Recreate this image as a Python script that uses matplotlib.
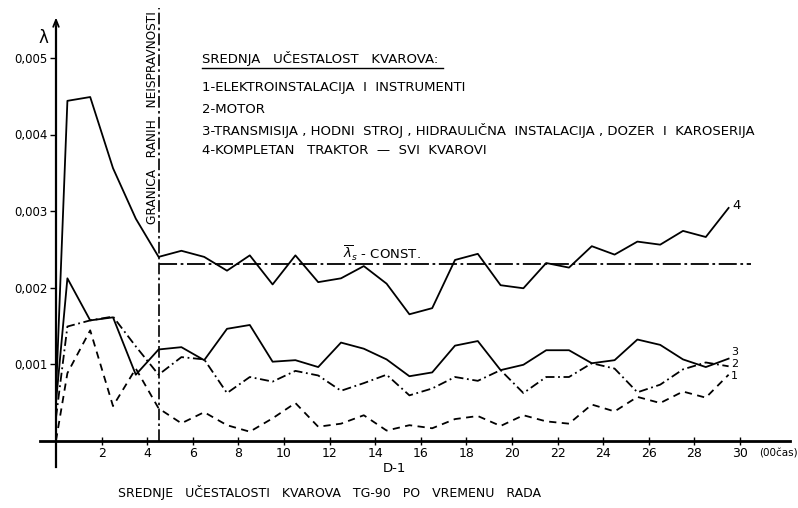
import matplotlib
matplotlib.use("Agg")
import matplotlib.pyplot as plt
from matplotlib.lines import Line2D

# ---------------- data ----------------
hours = [0, 0.5, 1.5, 2.5, 3.5, 4.5, 5.5, 6.5, 7.5, 8.5, 9.5, 10.5, 11.5, 12.5, 13.5,
         14.5, 15.5, 16.5, 17.5, 18.5, 19.5, 20.5, 21.5, 22.5, 23.5, 24.5, 25.5, 26.5,
         27.5, 28.5, 29.5]
s1_elektro = [0.0, 0.00088, 0.00144, 0.00045, 0.00094, 0.00042, 0.000225, 0.00037, 0.0002,
              0.000115, 0.00029, 0.00049, 0.00018, 0.00022, 0.00033, 0.00013, 0.0002, 0.00016,
              0.00028, 0.00032, 0.00019, 0.00033, 0.00025, 0.00022, 0.00047, 0.00038, 0.00057,
              0.00049, 0.00064, 0.00056, 0.00086]
s2_motor = [0.0003, 0.00149, 0.00157, 0.00162, 0.00123, 0.00086, 0.00109, 0.00106, 0.00062,
            0.00083, 0.00077, 0.00091, 0.00085, 0.00065, 0.00075, 0.00086, 0.00059, 0.00068,
            0.00083, 0.00078, 0.00092, 0.00062, 0.00083, 0.00083, 0.00101, 0.00094, 0.00063,
            0.00073, 0.00093, 0.00102, 0.00097]
s3_transmisija = [0.0005, 0.00212, 0.00157, 0.00161, 0.00086, 0.00119, 0.00122, 0.00105,
                  0.00146, 0.00151, 0.00103, 0.00105, 0.00096, 0.00128, 0.0012, 0.00106,
                  0.00084, 0.00089, 0.00124, 0.0013, 0.00092, 0.00099, 0.00118, 0.00118,
                  0.00101, 0.00105, 0.00132, 0.00125, 0.00106, 0.00096, 0.00107]
s4_kompletan = [0.0006, 0.00444, 0.00449, 0.00356, 0.0029, 0.0024, 0.00248, 0.0024, 0.00222,
                0.00242, 0.00204, 0.00242, 0.00207, 0.00212, 0.00228, 0.00205, 0.00165,
                0.00173, 0.00236, 0.00244, 0.00203, 0.00199, 0.00232, 0.00226, 0.00254,
                0.00243, 0.0026, 0.00256, 0.00274, 0.00266, 0.00304]
lambda_s = 0.00231
granica = 4.5
const_end = 30.5
x_ticks = [2, 4, 6, 8, 10, 12, 14, 16, 18, 20, 22, 24, 26, 28, 30]
y_ticks = [0.001, 0.002, 0.003, 0.004, 0.005]
y_tick_labels = ["0,001", "0,002", "0,003", "0,004", "0,005"]
legend_lines = [
    "1-ELEKTROINSTALACIJA  I  INSTRUMENTI",
    "2-MOTOR",
    "3-TRANSMISIJA , HODNI  STROJ , HIDRAULIČNA  INSTALACIJA , DOZER  I  KAROSERIJA",
    "4-KOMPLETAN   TRAKTOR  —  SVI  KVAROVI",
]

FONT = ["Liberation Sans Narrow", "DejaVu Sans"]
plt.rcParams["font.family"] = FONT

W, H = 798, 508
fig = plt.figure(figsize=(W / 100, H / 100), dpi=100)
fig.patch.set_facecolor("white")
ax = fig.add_axes([0, 0, 1, 1])

# pixel mapping: x_px = 56 + 22.8*x ; y_px = 440.5 - 76500*y
XS, X0 = 22.8, 56
YS, Y0 = 76500, 440.5
ax.set_xlim(-X0 / XS, (W - X0) / XS)
ax.set_ylim(-(H - Y0) / YS, Y0 / YS)
ax.set_facecolor("white")

def fx(px):
    return px / W

def fy(py):
    return 1 - py / H

# axes spines through the origin
for s in ["top", "right"]:
    ax.spines[s].set_visible(False)
ax.spines["left"].set_position(("data", 0))
ax.spines["bottom"].set_position(("data", 0))
ax.spines["left"].set_bounds(-26 / YS, 0.0054)
ax.spines["bottom"].set_bounds(-16 / XS, 32.2)
ax.spines["left"].set_linewidth(1.6)
ax.spines["bottom"].set_linewidth(2.0)
ax.set_xticks(x_ticks)
ax.set_xticklabels([str(t) for t in x_ticks])
ax.set_yticks(y_ticks)
ax.set_yticklabels(y_tick_labels)
ax.tick_params(axis="x", direction="inout", length=6, width=1.0, pad=2, labelsize=9)
ax.tick_params(axis="y", direction="out", length=4, width=1.0, pad=2, labelsize=8.5)

# arrow heads
ax.annotate("", xy=(32.7, 0), xytext=(31.2, 0),
            arrowprops=dict(arrowstyle="->,head_length=0.9,head_width=0.22", lw=1.4,
                            color="black", shrinkA=0, shrinkB=0))
ax.annotate("", xy=(0, 0.00553), xytext=(0, 0.0052),
            arrowprops=dict(arrowstyle="->,head_length=0.5,head_width=0.2", lw=1.3,
                            color="black", shrinkA=0, shrinkB=0))

lw = 1.3
ax.plot(hours, s4_kompletan, color="black", lw=lw, ls="-")
ax.plot(hours, s3_transmisija, color="black", lw=lw, ls="-")
ax.plot(hours, s2_motor, color="black", lw=lw, ls=(0, (5, 2, 1, 2)))
ax.plot(hours, s1_elektro, color="black", lw=lw, ls=(0, (4, 3)))

# constant line and boundary
ax.plot([granica, const_end], [lambda_s, lambda_s], color="black", lw=1.3,
        ls=(0, (10, 2, 1.5, 2)))
ax.plot([granica, granica], [0, 0.00565], color="black", lw=1.2, ls=(0, (7, 2, 1.5, 2)))

# end labels
ax.text(29.65, s4_kompletan[-1] + 0.00003, "4", fontsize=9.5, ha="left", va="center")
ax.text(29.6, (440.5 - 352) / YS, "3", fontsize=8, ha="left", va="center")
ax.text(29.6, (440.5 - 364) / YS, "2", fontsize=8, ha="left", va="center")
ax.text(29.6, (440.5 - 376) / YS, "1", fontsize=8, ha="left", va="center")

ax.text(-0.55, (440.5 - 38) / YS, "λ", fontsize=12, ha="center", va="center")
ax.text(12.6, (440.5 - 253) / YS, r"$\overline{\lambda}_s$" + " - CONST.", fontsize=9.5,
        ha="left", va="center")
ax.text(30.85, (440.5 - 453) / YS, "(00čas)", fontsize=7.5, ha="left", va="center")

# legend block
fig.text(fx(202), fy(58), "SREDNJA   UČESTALOST   KVAROVA:", fontsize=9.5,
         ha="left", va="center")
fig.add_artist(Line2D([fx(202), fx(443)], [fy(68), fy(68)], color="black", lw=1.0))
for i, t in enumerate(legend_lines):
    fig.text(fx(202), fy(88 + i * 21), t, fontsize=9.5, ha="left", va="center")

fig.text(fx(152), fy(224), "GRANICA   RANIH   NEISPRAVNOSTI", fontsize=8.7,
         rotation=90, ha="center", va="bottom")

fig.text(fx(394), fy(468), "D-1", fontsize=9.5, ha="center", va="center")
fig.text(fx(330), fy(492), "SREDNJE   UČESTALOSTI   KVAROVA   TG-90   PO   VREMENU   RADA",
         fontsize=9, ha="center", va="center")

fig.savefig("out.png", dpi=100, facecolor="white")
